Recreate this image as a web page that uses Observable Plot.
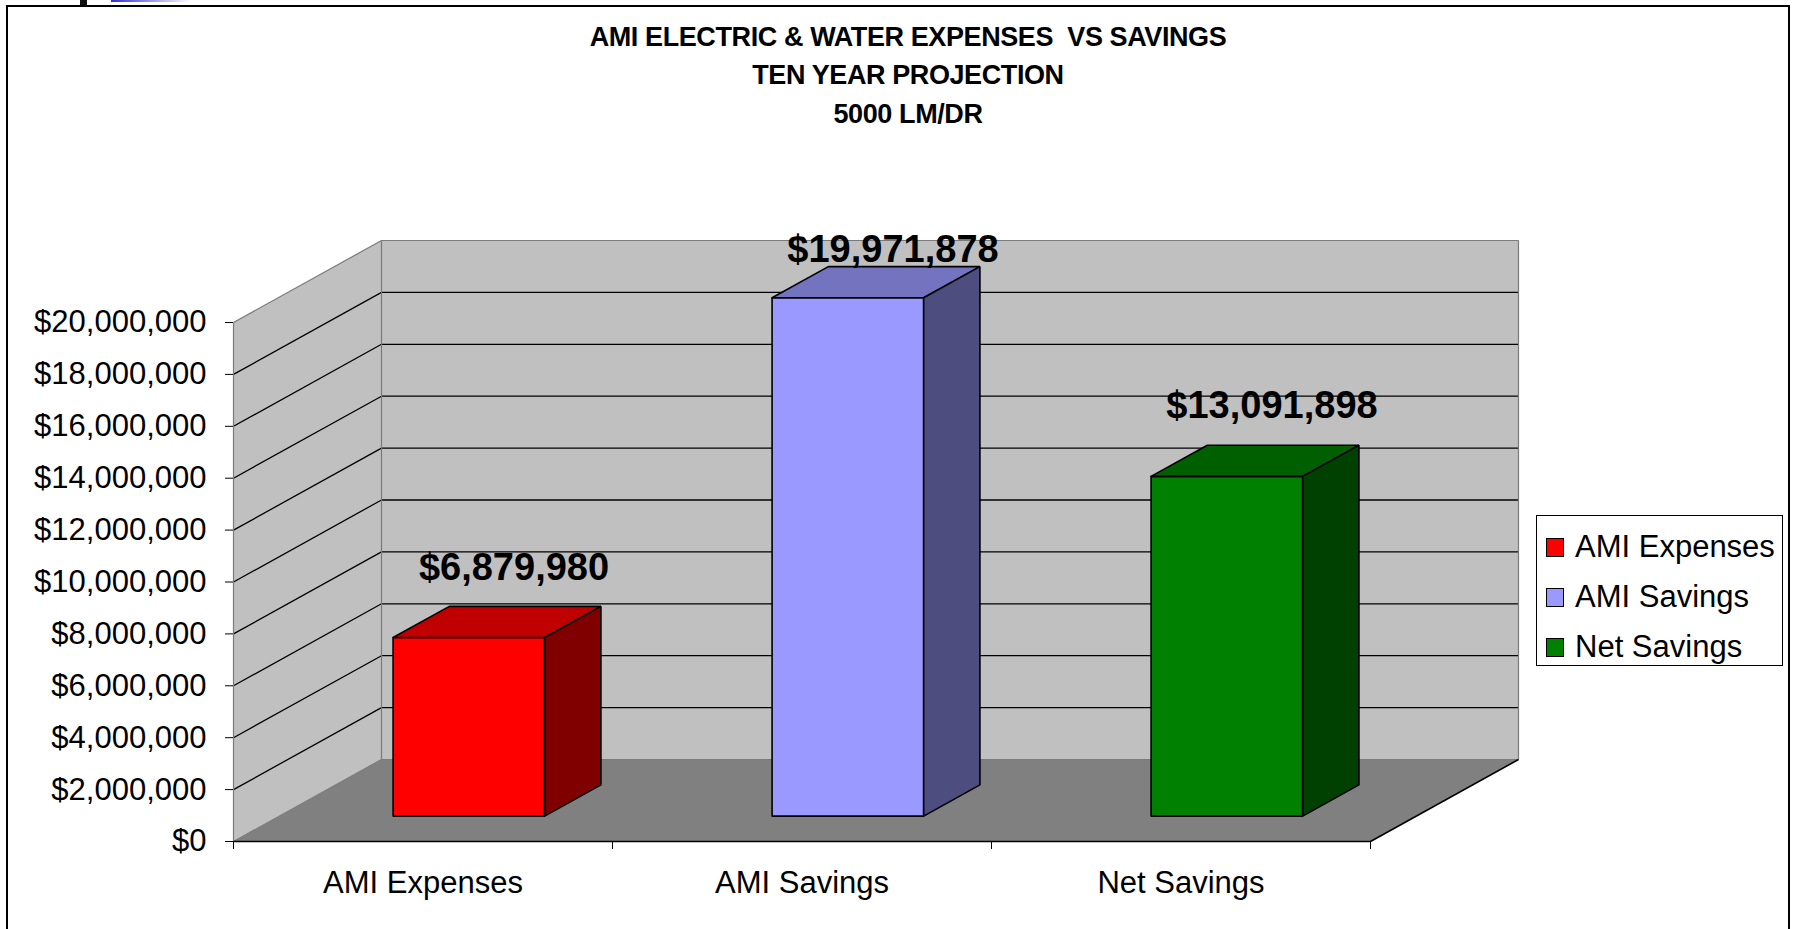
<!DOCTYPE html>
<html>
<head>
<meta charset="utf-8">
<script src="https://cdn.jsdelivr.net/npm/d3@7"></script>
<script src="https://cdn.jsdelivr.net/npm/@observablehq/plot@0.6"></script>
<style>
  html, body { margin: 0; padding: 0; background: #fff; }
  #wrap { position: relative; width: 1796px; height: 929px; overflow: hidden; background: #fff;
          font-family: "Liberation Sans", Arial, sans-serif; }
  #chart { position: absolute; left: 0; top: 0; }
  #border { position: absolute; left: 6px; top: 5px; width: 1780px; height: 1000px; border: 2px solid #000; }
  #title { position: absolute; left: 408px; top: 18px; width: 1000px; text-align: center;
           font-weight: bold; font-size: 27px; line-height: 38.3px; letter-spacing: -0.4px; white-space: pre; color: #000; }
  #legend { position: absolute; left: 1536px; top: 515px; width: 245px; height: 149px;
            border: 1.5px solid #000; background: #fff; }
  .row { position: absolute; left: 9px; height: 40px; display: flex; align-items: center; font-size: 31px; color: #000; white-space: nowrap; }
  .sw { width: 16px; height: 17px; border: 1px solid #000; margin-right: 11px; }
  #blk { position: absolute; left: 80px; top: 0; width: 7px; height: 6px; background: #111; }
  #blue { position: absolute; left: 111px; top: 0; width: 80px; height: 2px; background: linear-gradient(to right, #3030c8, #ffffff); }
</style>
</head>
<body>
<div id="wrap">
  <div id="chart"></div>
  <div id="blk"></div>
  <div id="blue"></div>
  <div id="border"></div>
  <div id="title"></div>
  <div id="legend"></div>
</div>
<script>
// ---- data ----
const categories = ["AMI Expenses", "AMI Savings", "Net Savings"];
const values = [6879980, 19971878, 13091898];
const frontColors = ["#ff0000", "#9999ff", "#008000"];
const topColors = ["#c00000", "#7373bf", "#006000"];
const sideColors = ["#800000", "#4d4d80", "#004000"];
const yTicks = [0, 2000000, 4000000, 6000000, 8000000, 10000000, 12000000, 14000000, 16000000, 18000000, 20000000];
const titleLines = ["AMI ELECTRIC & WATER EXPENSES  VS SAVINGS", "TEN YEAR PROJECTION", "5000 LM/DR"];

// ---- 3D oblique projection (depth expressed in data units) ----
const yMax = 20000000;
const DX = 148 / 379;            // depth shift along x (category units)
const DY = 82 * yMax / 519;      // depth shift along y (value units)
const Z0 = 0.31, Z1 = 0.69;      // bar depth extent
const HALF = 0.2;                // half bar width (category units)
const nCat = categories.length;
const pt = (c, v, z) => ({x: c + z * DX, y: v + z * DY});

function poly(id, fill, pts) {
  const closed = pts.concat([pts[0]]);
  return closed.map(p => ({id, fill, x: p.x, y: p.y}));
}

const wallPolys = [
  ...poly("left", "#c0c0c0", [pt(0, 0, 0), pt(0, 0, 1), pt(0, yMax, 1), pt(0, yMax, 0)]),
  ...poly("back", "#c0c0c0", [pt(0, 0, 1), pt(nCat, 0, 1), pt(nCat, yMax, 1), pt(0, yMax, 1)]),
  ...poly("floor", "#808080", [pt(0, 0, 0), pt(nCat, 0, 0), pt(nCat, 0, 1), pt(0, 0, 1)])
];

const grid = [];
yTicks.filter(v => v > 0 && v < yMax).forEach(v => {
  const a = pt(0, v, 0), b = pt(0, v, 1), c = pt(nCat, v, 1);
  grid.push({x1: a.x, y1: a.y, x2: b.x, y2: b.y});
  grid.push({x1: b.x, y1: b.y, x2: c.x, y2: c.y});
});
const seg = (p, q) => ({x1: p.x, y1: p.y, x2: q.x, y2: q.y});
const grayEdges = [
  seg(pt(0, 0, 0), pt(0, yMax, 0)),
  seg(pt(0, yMax, 0), pt(0, yMax, 1)),
  seg(pt(0, 0, 1), pt(0, yMax, 1)),
  seg(pt(0, yMax, 1), pt(nCat, yMax, 1)),
  seg(pt(nCat, 0, 1), pt(nCat, yMax, 1)),
  seg(pt(0, 0, 1), pt(nCat, 0, 1)),
  seg(pt(0, 0, 0), pt(0, 0, 1))
];
const blackEdges = [
  seg(pt(0, 0, 0), pt(nCat, 0, 0)),
  seg(pt(nCat, 0, 0), pt(nCat, 0, 1))
];

const barPolys = [];
values.forEach((v, i) => {
  const cL = i + 0.5 - HALF, cR = i + 0.5 + HALF;
  barPolys.push(...poly("f" + i, frontColors[i], [pt(cL, 0, Z0), pt(cR, 0, Z0), pt(cR, v, Z0), pt(cL, v, Z0)]));
  barPolys.push(...poly("t" + i, topColors[i], [pt(cL, v, Z0), pt(cR, v, Z0), pt(cR, v, Z1), pt(cL, v, Z1)]));
  barPolys.push(...poly("s" + i, sideColors[i], [pt(cR, 0, Z0), pt(cR, 0, Z1), pt(cR, v, Z1), pt(cR, v, Z0)]));
});

const labelOffset = 2100000, labelCap = 21230000;
const labels = values.map((v, i) => {
  const p = pt(i + 0.5, Math.min(v + labelOffset, labelCap), 0.5);
  return {x: p.x, y: p.y, text: "$" + d3.format(",")(v)};
});

const money = d => "$" + d3.format(",")(d);

const chart = Plot.plot({
  width: 1796,
  height: 929,
  marginLeft: 233,
  marginRight: 426,
  marginTop: 322,
  marginBottom: 88,
  x: {domain: [0, nCat], axis: null},
  y: {domain: [0, yMax], axis: null},
  color: {type: "identity"},
  style: {fontFamily: "Liberation Sans, Arial, sans-serif", fontSize: "31px", color: "#000", background: "transparent", overflow: "visible"},
  marks: [
    Plot.line(wallPolys, {x: "x", y: "y", z: "id", fill: "fill", stroke: "none"}),
    Plot.link(grid, {x1: "x1", y1: "y1", x2: "x2", y2: "y2", stroke: "#000", strokeWidth: 1.3}),
    Plot.link(grayEdges, {x1: "x1", y1: "y1", x2: "x2", y2: "y2", stroke: "#7a7a7a", strokeWidth: 1.2}),
    Plot.link(blackEdges, {x1: "x1", y1: "y1", x2: "x2", y2: "y2", stroke: "#000", strokeWidth: 1.6}),
    Plot.line(barPolys, {x: "x", y: "y", z: "id", fill: "fill", stroke: "#000", strokeWidth: 1.6, strokeLinejoin: "miter"}),
    Plot.axisY({ticks: yTicks, tickFormat: money, tickSize: 8, tickPadding: 19, fontSize: 31, label: null, stroke: "#000"}),
    Plot.axisX({ticks: [0, 1, 2, 3], tickFormat: () => "", tickSize: 8, label: null, stroke: "#000"}),
    Plot.axisX({ticks: categories.map((c, i) => i + 0.5), tickFormat: d => categories[Math.floor(d)], tickSize: 0, tickPadding: 29, fontSize: 31, label: null}),
    Plot.text(labels, {x: "x", y: "y", text: "text", dx: 17, fontSize: 38, fontWeight: "bold", fill: "#000", lineAnchor: "middle"})
  ]
});
document.getElementById("chart").appendChild(chart);

document.getElementById("title").textContent = titleLines.join("\n");

const legend = document.getElementById("legend");
categories.forEach((c, i) => {
  const row = document.createElement("div");
  row.className = "row";
  row.style.top = (11 + i * 50) + "px";
  const sw = document.createElement("div");
  sw.className = "sw";
  sw.style.background = frontColors[i];
  const t = document.createElement("span");
  t.textContent = c;
  row.appendChild(sw);
  row.appendChild(t);
  legend.appendChild(row);
});
</script>
</body>
</html>
